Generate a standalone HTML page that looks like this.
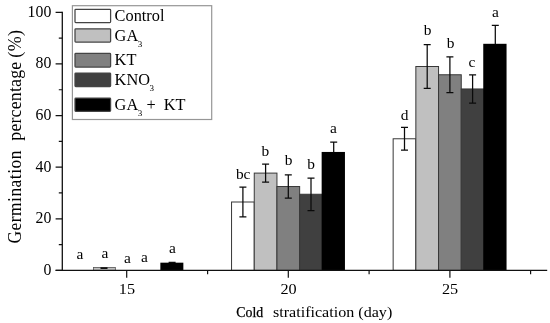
<!DOCTYPE html>
<html lang="en"><head><meta charset="utf-8"><title>Germination percentage vs cold stratification</title>
<style>html,body{margin:0;padding:0;background:#fff}body{width:550px;height:323px;overflow:hidden}svg{display:block}</style>
</head><body>
<svg xmlns="http://www.w3.org/2000/svg" width="550" height="323" viewBox="0 0 550 323" font-family="'Liberation Serif', serif" font-size="16px" fill="#000">
<rect width="550" height="323" fill="#fff"/>
<rect x="70.75" y="270.40" width="21.90" height="0.00" fill="#ffffff" stroke="#555" stroke-width="0.8"/>
<rect x="93.45" y="267.43" width="21.90" height="2.97" fill="#c0c0c0" stroke="#555" stroke-width="0.8"/>
<rect x="116.15" y="270.40" width="21.90" height="0.00" fill="#808080" stroke="#555" stroke-width="0.8"/>
<rect x="138.85" y="270.40" width="21.90" height="0.00" fill="#404040" stroke="#555" stroke-width="0.8"/>
<rect x="160.35" y="262.67" width="23.00" height="7.73" fill="#000"/>
<path d="M100.50 268.1h7" stroke="#111" stroke-width="1.8" fill="none"/>
<path d="M172.10 262.40V263.17M168.60 262.40h7" stroke="#0a0a0a" stroke-width="1.25" fill="none"/>
<text x="79.9" y="258.7" text-anchor="middle" font-size="15.4px">a</text>
<text x="104.8" y="257.7" text-anchor="middle" font-size="15.4px">a</text>
<text x="127.4" y="262.8" text-anchor="middle" font-size="15.4px">a</text>
<text x="144.5" y="261.5" text-anchor="middle" font-size="15.4px">a</text>
<text x="172.5" y="253.1" text-anchor="middle" font-size="15.4px">a</text>
<rect x="231.55" y="202.00" width="22.70" height="68.40" fill="#ffffff" stroke="#383838" stroke-width="1"/>
<rect x="254.25" y="173.10" width="22.70" height="97.30" fill="#c0c0c0" stroke="#383838" stroke-width="1"/>
<rect x="276.95" y="186.52" width="22.70" height="83.88" fill="#808080" stroke="#383838" stroke-width="1"/>
<rect x="299.65" y="194.26" width="22.70" height="76.14" fill="#404040" stroke="#383838" stroke-width="1"/>
<rect x="321.65" y="151.95" width="23.30" height="118.45" fill="#000"/>
<path d="M242.90 187.03V216.97M239.40 187.03h7M239.40 216.97h7" stroke="#0a0a0a" stroke-width="1.25" fill="none"/>
<path d="M265.60 164.06V182.13M262.10 164.06h7M262.10 182.13h7" stroke="#0a0a0a" stroke-width="1.25" fill="none"/>
<path d="M288.30 174.90V198.13M284.80 174.90h7M284.80 198.13h7" stroke="#0a0a0a" stroke-width="1.25" fill="none"/>
<path d="M311.00 178.00V210.52M307.50 178.00h7M307.50 210.52h7" stroke="#0a0a0a" stroke-width="1.25" fill="none"/>
<path d="M333.70 142.12V152.45M330.20 142.12h7" stroke="#0a0a0a" stroke-width="1.25" fill="none"/>
<text x="243.2" y="178.5" text-anchor="middle" font-size="15.4px">bc</text>
<text x="265.3" y="155.6" text-anchor="middle" font-size="15.4px">b</text>
<text x="288.5" y="165.3" text-anchor="middle" font-size="15.4px">b</text>
<text x="311.1" y="168.9" text-anchor="middle" font-size="15.4px">b</text>
<text x="333.3" y="133.2" text-anchor="middle" font-size="15.4px">a</text>
<rect x="393.15" y="138.77" width="22.70" height="131.63" fill="#ffffff" stroke="#383838" stroke-width="1"/>
<rect x="415.85" y="66.50" width="22.70" height="203.90" fill="#c0c0c0" stroke="#383838" stroke-width="1"/>
<rect x="438.55" y="74.76" width="22.70" height="195.64" fill="#808080" stroke="#383838" stroke-width="1"/>
<rect x="461.25" y="88.96" width="22.70" height="181.44" fill="#404040" stroke="#383838" stroke-width="1"/>
<rect x="483.25" y="43.80" width="23.30" height="226.60" fill="#000"/>
<path d="M404.50 127.41V150.13M401.00 127.41h7M401.00 150.13h7" stroke="#0a0a0a" stroke-width="1.25" fill="none"/>
<path d="M427.20 44.56V88.44M423.70 44.56h7M423.70 88.44h7" stroke="#0a0a0a" stroke-width="1.25" fill="none"/>
<path d="M449.90 56.95V92.57M446.40 56.95h7M446.40 92.57h7" stroke="#0a0a0a" stroke-width="1.25" fill="none"/>
<path d="M472.60 74.76V103.15M469.10 74.76h7M469.10 103.15h7" stroke="#0a0a0a" stroke-width="1.25" fill="none"/>
<path d="M495.30 25.46V44.30M491.80 25.46h7" stroke="#0a0a0a" stroke-width="1.25" fill="none"/>
<text x="404.7" y="120.2" text-anchor="middle" font-size="15.4px">d</text>
<text x="427.6" y="35.1" text-anchor="middle" font-size="15.4px">b</text>
<text x="450.5" y="48.4" text-anchor="middle" font-size="15.4px">b</text>
<text x="472.0" y="66.7" text-anchor="middle" font-size="15.4px">c</text>
<text x="495.3" y="16.8" text-anchor="middle" font-size="15.4px">a</text>
<path d="M62.3 11.700000000000001V270.4M55.599999999999994 270.4H547.2" stroke="#111" stroke-width="1.3" fill="none"/>
<path d="M55.60 270.40H62.3M55.60 218.78H62.3M55.60 167.16H62.3M55.60 115.54H62.3M55.60 63.92H62.3M55.60 12.30H62.3M58.80 244.59H62.3M58.80 192.97H62.3M58.80 141.35H62.3M58.80 89.73H62.3M58.80 38.11H62.3M126.70 270.4v7.3M288.30 270.4v7.3M449.90 270.4v7.3M207.60 270.4v3.9M369.10 270.4v3.9M530.60 270.4v3.9" stroke="#111" stroke-width="1.2" fill="none"/>
<text x="51.3" y="274.7" text-anchor="end" font-size="15.8px">0</text>
<text x="51.3" y="223.1" text-anchor="end" font-size="15.8px">20</text>
<text x="51.3" y="171.5" text-anchor="end" font-size="15.8px">40</text>
<text x="51.3" y="119.8" text-anchor="end" font-size="15.8px">60</text>
<text x="51.3" y="68.2" text-anchor="end" font-size="15.8px">80</text>
<text x="51.3" y="16.6" text-anchor="end" font-size="15.8px">100</text>
<text transform="translate(126.9 293.9) scale(1.04 1)" text-anchor="middle" font-size="15.6px">15</text>
<text transform="translate(288.5 293.9) scale(1.04 1)" text-anchor="middle" font-size="15.6px">20</text>
<text transform="translate(450.1 293.9) scale(1.04 1)" text-anchor="middle" font-size="15.6px">25</text>
<text x="236.3" y="316.7" font-size="13.8px" stroke="#000" stroke-width="0.25">Cold</text>
<text transform="translate(273 316.8) scale(1.066 1)" font-size="15.1px">stratification (day)</text>
<text transform="translate(21.0 0) scale(1.07 1) rotate(-90)" font-size="17.8px" xml:space="preserve"><tspan x="-243.5" font-size="17.4px" letter-spacing="0.5">Germination</tspan><tspan x="-150" letter-spacing="0"> </tspan><tspan x="-140.7" letter-spacing="0.2">percentage</tspan><tspan x="-62"> </tspan><tspan x="-57.7" font-size="18px" letter-spacing="0.4">(%)</tspan></text>
<rect x="72.4" y="5.7" width="139.3" height="113.8" fill="#fff" stroke="#969696" stroke-width="1.2"/>
<rect x="75" y="9.3" width="35.6" height="13.3" rx="0.8" fill="#ffffff" stroke="#444" stroke-width="1.25"/>
<rect x="75" y="28.8" width="35.6" height="13.3" rx="0.8" fill="#c0c0c0" stroke="#444" stroke-width="1.25"/>
<rect x="75" y="53.4" width="35.6" height="13.6" rx="0.8" fill="#808080" stroke="#444" stroke-width="1.25"/>
<rect x="75" y="73.0" width="35.6" height="13.6" rx="0.8" fill="#404040" stroke="#444" stroke-width="1.25"/>
<rect x="75" y="98.1" width="35.6" height="13.3" rx="0.8" fill="#000000" stroke="#444" stroke-width="1.25"/>
<text transform="translate(114.6 21.2) scale(1.04 1)" font-size="15.7px" xml:space="preserve">Control</text>
<text transform="translate(114.6 40.7) scale(1.04 1)" font-size="15.7px" xml:space="preserve">GA<tspan font-size="8.7px" dx="-0.5" dy="6">3</tspan></text>
<text transform="translate(114.6 65.3) scale(1.04 1)" font-size="15.7px" xml:space="preserve">KT</text>
<text transform="translate(114.6 85.3) scale(1.04 1)" font-size="15.7px" xml:space="preserve">KNO<tspan font-size="8.7px" dx="-0.5" dy="6">3</tspan></text>
<text transform="translate(114.6 109.9) scale(1.04 1)" font-size="15.7px" xml:space="preserve">GA<tspan font-size="8.7px" dx="-0.5" dy="6">3</tspan><tspan dx="0.2" dy="-6"> +  KT</tspan></text>
</svg>
</body></html>
